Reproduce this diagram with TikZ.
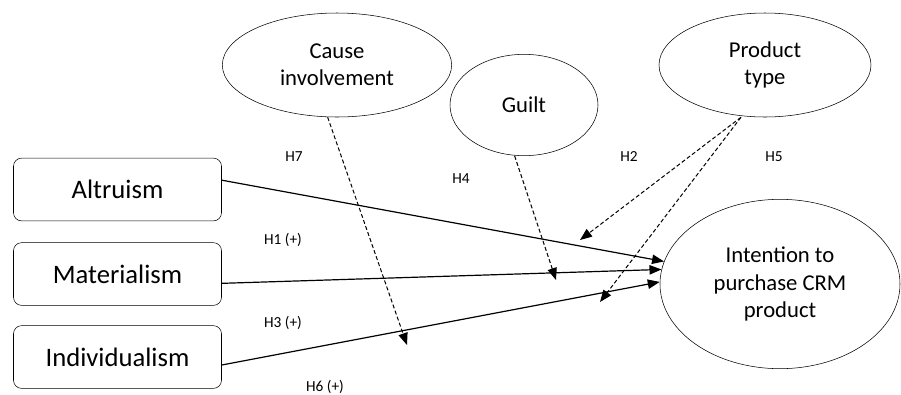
\documentclass[tikz,border=0pt]{standalone}
\usepackage{fontspec}
\setmainfont{Carlito}
\usetikzlibrary{shapes.geometric,arrows.meta}
\tikzset{
  construct/.style={rectangle, draw, rounded corners=6pt, minimum width=156pt, minimum height=47pt, inner sep=0pt, font=\fontsize{20}{24}\selectfont},
  moderator/.style={ellipse, draw, inner sep=0pt, align=center, font=\fontsize{17}{20.5}\selectfont},
  hyp/.style={font=\fontsize{11.5}{13}\selectfont},
  path/.style={line width=0.9pt, -{Triangle[length=9pt,width=7pt]}},
  modpath/.style={line width=0.75pt, dash pattern=on 3pt off 1.8pt, -{Triangle[length=9pt,width=7pt]}}
}
\begin{document}
\begin{tikzpicture}[x=0.75pt,y=-0.75pt]
  \useasboundingbox (0,0) rectangle (901,394);
  \node[construct] (alt) at (117.5,189.5) {Altruism};
  \node[construct] (mat) at (117.5,274) {Materialism};
  \node[construct] (ind) at (117.5,357) {Individualism};

  \node[moderator, minimum width=172pt, minimum height=78pt] (cause) at (337,65) {Cause\\involvement};
  \node[moderator, minimum width=111pt, minimum height=76pt] (guilt) at (524,105) {Guilt};
  \node[moderator, minimum width=159pt, minimum height=78pt] (ptype) at (765,65) {Product\\type};
  \node[moderator, minimum width=180pt, minimum height=127pt] (intent) at (780,284) {Intention to\\purchase CRM\\product};

  \coordinate (h7end) at (407,345);
  \coordinate (h4end) at (556,280);
  \coordinate (h2end) at (580,240);
  \coordinate (h5end) at (600,302);

  \draw[path] ([yshift=7pt]alt.east) -- (intent.169);
  \draw[path] ([yshift=-7pt]mat.east) -- (intent.173);
  \draw[path] ([yshift=-6pt]ind.east) -- (intent.179);

  \draw[modpath] ([xshift=-7pt]cause.south) -- (h7end);
  \draw[modpath] ([xshift=-7pt]guilt.south) -- (h4end);
  \draw[modpath] ([xshift=-18pt]ptype.south) -- (h2end);
  \draw[modpath] ([xshift=-18pt]ptype.south) -- (h5end);

  \node[hyp] (h7) at (294,157) {H7};
  \node[hyp] (h4) at (461,179) {H4};
  \node[hyp] (h2) at (629,157) {H2};
  \node[hyp] (h5) at (774,157) {H5};
  \node[hyp] (h1) at (283,240) {H1 (+)};
  \node[hyp] (h3) at (283,323) {H3 (+)};
  \node[hyp] (h6) at (325,387) {H6 (+)};
\end{tikzpicture}
\end{document}
